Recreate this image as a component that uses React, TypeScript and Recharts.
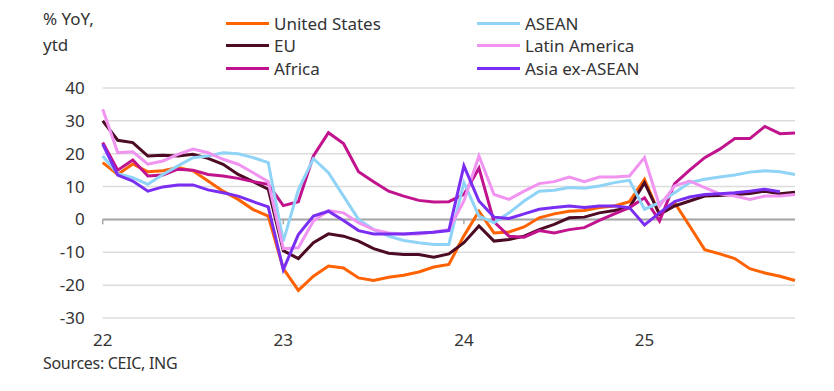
import React from "react";
import { LineChart, Line, XAxis, YAxis, CartesianGrid, ReferenceLine } from "recharts";

// monthly, Jan 2022 .. Nov 2025
const unitedStates = [17.3, 13.7, 16.9, 14.5, 14.8, 15.8, 14.8, 11.7, 8.6, 6.1, 3.0, 1.0, -15.0, -21.6, -17.3, -14.2, -14.8, -17.8, -18.6, -17.6, -17.0, -16.0, -14.5, -13.7, -5.0, 2.5, -4.1, -3.8, -2.3, 0.5, 1.7, 2.5, 2.7, 3.6, 4.1, 5.4, 12.2, 1.5, 5.1, -2.0, -9.2, -10.5, -11.9, -15.0, -16.3, -17.3, -18.6];
const eu = [30.0, 24.1, 23.4, 19.3, 19.5, 19.3, 19.8, 18.6, 16.8, 13.7, 11.5, 9.2, -9.5, -11.9, -7.1, -4.4, -5.1, -6.6, -8.9, -10.3, -10.7, -10.7, -11.5, -10.5, -7.1, -2.0, -6.6, -6.1, -5.1, -3.1, -1.5, 0.5, 0.7, 2.0, 2.7, 3.6, 11.2, 1.5, 4.1, 5.6, 7.1, 7.3, 7.6, 7.9, 8.6, 7.8, 8.3];
const africa = [23.4, 15.0, 18.1, 13.2, 13.5, 15.3, 15.0, 13.7, 13.2, 12.5, 11.5, 10.7, 4.2, 5.4, 19.3, 26.4, 23.1, 14.5, 11.5, 8.6, 7.1, 5.8, 5.3, 5.4, 7.6, 15.6, -0.7, -5.1, -5.4, -3.4, -4.1, -3.1, -2.5, -0.3, 1.7, 3.6, 6.6, -0.5, 10.9, 15.0, 18.8, 21.4, 24.6, 24.6, 28.3, 26.1, 26.3];
const asean = [19.3, 13.9, 12.7, 10.7, 13.7, 16.3, 18.8, 19.3, 20.3, 20.0, 18.8, 17.3, -6.6, 9.0, 18.5, 14.2, 7.1, 0.0, -3.1, -5.1, -6.4, -7.1, -7.6, -7.6, 11.2, 1.0, -1.0, 2.0, 5.6, 8.6, 8.9, 9.7, 9.5, 10.2, 11.2, 11.9, 3.1, 5.1, 8.1, 11.2, 12.2, 12.9, 13.5, 14.4, 14.8, 14.5, 13.7];
const latinAmerica = [33.5, 20.3, 20.6, 16.8, 17.8, 19.8, 21.4, 20.3, 18.3, 16.8, 14.2, 11.5, -8.9, -8.6, -0.5, 2.7, 2.0, -1.0, -3.1, -4.1, -4.4, -4.4, -3.8, -3.1, 5.6, 19.3, 7.6, 6.1, 8.6, 10.9, 11.5, 12.9, 11.5, 12.9, 12.9, 13.2, 18.8, 4.1, 10.2, 11.7, 9.7, 7.8, 7.1, 6.1, 7.1, 7.1, 7.6];
const asiaExAsean = [22.9, 13.5, 11.7, 8.6, 9.9, 10.5, 10.5, 9.0, 8.1, 7.1, 5.4, 3.8, -15.3, -4.6, 1.0, 2.5, -0.3, -3.4, -4.4, -4.4, -4.4, -4.1, -3.9, -3.4, 16.3, 5.6, 0.7, 0.3, 1.7, 3.1, 3.6, 4.1, 3.6, 4.1, 4.1, 3.6, -1.7, 2.0, 5.4, 6.8, 7.6, 7.8, 8.1, 8.6, 9.2, 8.4, null];

const yearTicks = [0, 12, 24, 36];
const yearLabels = ["22", "23", "24", "25"];
const yTicks = [-30, -20, -10, 0, 10, 20, 30, 40];

const series = [
  { key: "us", name: "United States", values: unitedStates, color: "#ff6200" },
  { key: "eu", name: "EU", values: eu, color: "#4d0a24" },
  { key: "africa", name: "Africa", values: africa, color: "#c2138e" },
  { key: "asean", name: "ASEAN", values: asean, color: "#8fd3f7" },
  { key: "latam", name: "Latin America", values: latinAmerica, color: "#f193f0" },
  { key: "asia", name: "Asia ex-ASEAN", values: asiaExAsean, color: "#7a2ef2" },
];

const legendCols = [
  ["United States", "EU", "Africa"],
  ["ASEAN", "Latin America", "Asia ex-ASEAN"],
];

const data = unitedStates.map((_, i) => {
  const row: Record<string, number | null> = { m: i };
  series.forEach((s) => (row[s.key] = s.values[i]));
  return row;
});

const font = "'Noto Sans', sans-serif";

const App: React.FC = () => {
  const colorOf = (n: string) => series.find((s) => s.name === n)!.color;
  return (
    <div style={{ position: "absolute", left: 0, top: 0, width: 834, height: 391, background: "#fff", fontFamily: font, color: "#333" }}>
      <div style={{ position: "absolute", left: 43, top: 6, fontSize: 17, lineHeight: "26px" }}>
        % YoY,<br />ytd
      </div>
      {legendCols.map((col, ci) => (
        <div key={ci} style={{ position: "absolute", left: ci === 0 ? 226 : 477, top: 12 }}>
          {col.map((n) => (
            <div key={n} style={{ display: "flex", alignItems: "center", height: 22.5, fontSize: 17 }}>
              <span style={{ display: "inline-block", width: 43, height: 3, background: colorOf(n), marginRight: 5 }} />
              {n}
            </div>
          ))}
        </div>
      ))}
      <div style={{ position: "absolute", left: 43, top: 352, fontSize: 16, letterSpacing: -0.3 }}>Sources: CEIC, ING</div>
      <LineChart width={834} height={391} data={data} margin={{ top: 88, right: 39, bottom: 43, left: 0 }}>
        <CartesianGrid horizontal vertical={false} stroke="#dcdcdc" strokeWidth={1.5} />
        <XAxis
          dataKey="m"
          type="number"
          domain={[0, 46]}
          ticks={yearTicks}
          tickFormatter={(v: number) => yearLabels[yearTicks.indexOf(v)]}
          axisLine={false}
          tickLine={false}
          height={30}
          tickMargin={10}
          tick={{ fill: "#333", fontSize: 17, fontFamily: font }}
        />
        <YAxis
          domain={[-30, 40]}
          ticks={yTicks}
          width={102.7}
          axisLine={false}
          tickLine={false}
          tickMargin={12}
          tick={{ fill: "#333", fontSize: 17, fontFamily: font }}
        />
        <ReferenceLine y={0} stroke="#a6a6a6" strokeWidth={2} />
        {yearTicks.slice(0, 3).map((t) => (
          <ReferenceLine key={t} segment={[{ x: t, y: 0 }, { x: t, y: -1.5 }]} stroke="#a6a6a6" strokeWidth={1.5} />
        ))}
        {series.map((s) => (
          <Line
            key={s.key}
            dataKey={s.key}
            stroke={s.color}
            strokeWidth={3}
            dot={false}
            type="linear"
            isAnimationActive={false}
          />
        ))}
      </LineChart>
    </div>
  );
};

export default App;
